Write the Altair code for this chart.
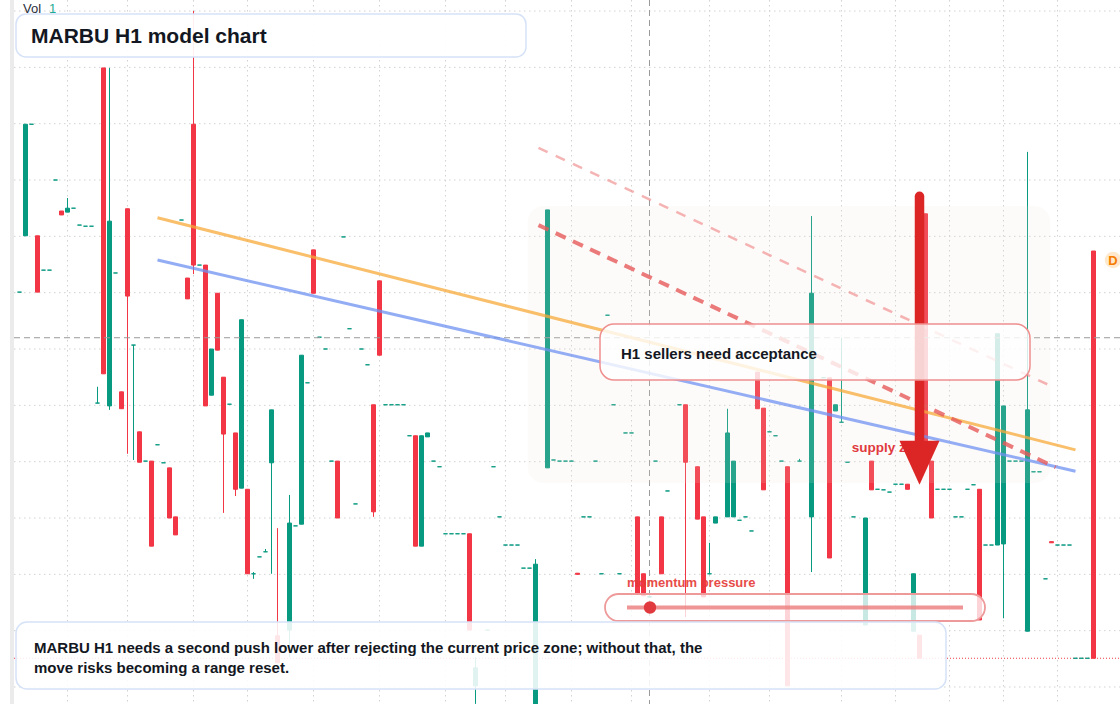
import altair as alt
import numpy as np
import pandas as pd

W, H = 1120, 704
GREEN, RED = "#089981", "#F23645"
FONT = "Liberation Sans"
INK = "#131722"

# ---------------- data (price units: 1 = one horizontal grid step) ----------------
BAR = [-1, 0, 1, 2, 3, 4, 5, 6, 7, 8, 9,
       10, 11, 12, 13, 14, 15, 16, 17, 18, 19,
       20, 21, 22, 23, 24, 25, 26, 27, 28, 29,
       30, 31, 32, 33, 34, 35, 36, 37, 38, 39,
       40, 41, 42, 44, 45, 46, 47, 48, 49, 50,
       51, 52, 53, 54, 55, 56, 57, 58, 59, 60,
       61, 62, 63, 64, 65, 66, 67, 68, 69, 70,
       71, 72, 73, 74, 75, 77, 78, 79, 80, 81,
       82, 83, 84, 85, 87, 88, 89, 90, 91, 92,
       93, 94, 95, 96, 97, 98, 99, 100, 101, 102,
       103, 104, 105, 106, 107, 109, 110, 112, 113, 114,
       115, 117, 118, 119, 120, 121, 122, 123, 124, 125,
       126, 127, 129, 131, 133, 134, 135, 136, 137, 138,
       140, 141, 142, 143, 144, 145, 146, 147, 148, 149,
       150, 151, 152, 153, 154, 155, 156, 157, 158, 159,
       160, 161, 162, 163, 164, 165, 166, 167, 168, 169,
       170, 171, 172, 173, 174, 175, 176, 177, 178]

OPEN = [7.01, 8.01, 9.99, 8.01, 7.40, 7.40, 9.00, 8.45, 8.43, 8.50, 8.20,
        8.18, 8.18, 5.04, 10.99, 4.99, 7.35, 5.24, 8.49, 6.07, 4.53,
        4.01, 4.01, 4.30, 3.98, 3.89, 3.02, 8.29, 7.26, 9.99, 7.49,
        7.49, 5.18, 6.99, 5.50, 5.02, 4.51, 3.53, 3.51, 2.01, 2.31,
        2.40, 3.98, 0.91, 1.01, 2.86, 2.89, 5.40, 7.76, 6.21, 6.00,
        4.01, 4.01, 7.99, 6.36, 3.25, 6.00, 5.72, 5.01, 7.21, 5.01,
        5.01, 5.01, 5.01, 4.46, 4.46, 2.50, 4.44, 4.01, 3.91, 2.72,
        2.72, 2.72, 2.72, 2.72, 0.02, 1.01, 3.91, 3.02, 2.52, 2.52,
        2.52, 2.11, 2.11, -0.30, 3.89, 4.03, 4.01, 4.01, 4.01, 2.02,
        3.02, 3.02, 4.01, 2.01, 6.60, 5.01, 2.01, 4.51, 4.51, 3.02,
        2.01, 1.60, 4.01, 3.02, 3.48, 5.01, 5.01, 3.91, 3.02, 2.01,
        2.91, 3.02, 3.02, 2.96, 3.02, 2.77, 5.59, 4.95, 4.53, 4.46,
        4.01, 3.91, 4.01, 3.02, 5.49, 5.49, 4.90, 4.70, 3.99, 3.02,
        1.10, 4.01, 3.51, 3.50, 3.46, 3.60, 3.60, 3.60, 0.99, 0.92,
        8.40, 4.01, 3.51, 3.51, 3.51, 3.02, 3.02, 3.51, 3.59, 3.51,
        2.52, 2.52, 2.52, 2.54, 4.01, 4.01, 4.01, 0.99, 3.82, 3.82,
        1.92, 2.58, 2.52, 2.52, 2.52, 0.51, 0.51, 0.51, 7.74]

HIGH = [7.01, 9.99, 9.99, 8.01, 7.40, 7.40, 9.00, 8.45, 8.68, 8.50, 8.20,
        8.18, 8.18, 5.33, 10.99, 10.99, 7.35, 5.24, 8.49, 6.07, 4.53,
        4.01, 4.01, 4.30, 3.98, 3.89, 3.02, 8.29, 7.26, 12.00, 7.49,
        7.49, 6.00, 6.99, 5.50, 5.02, 4.51, 6.52, 3.51, 2.04, 2.31,
        2.45, 4.92, 2.82, 3.41, 2.86, 5.89, 5.40, 7.76, 6.21, 6.00,
        4.01, 4.01, 7.99, 6.36, 3.25, 6.00, 5.72, 5.01, 7.21, 5.01,
        5.01, 5.01, 5.01, 4.46, 4.46, 4.46, 4.51, 4.01, 3.91, 2.72,
        2.72, 2.72, 2.72, 2.72, 0.53, 1.01, 3.91, 3.02, 2.52, 2.52,
        2.52, 2.11, 2.11, 2.27, 8.47, 4.03, 4.01, 4.01, 4.01, 2.02,
        3.02, 3.02, 4.01, 2.01, 6.60, 5.01, 2.01, 4.51, 4.51, 3.02,
        2.01, 1.60, 4.01, 3.02, 3.48, 5.01, 5.01, 3.91, 3.02, 2.56,
        3.02, 4.94, 4.01, 2.96, 3.02, 2.77, 5.59, 4.95, 4.53, 4.46,
        4.01, 3.91, 4.05, 8.36, 5.49, 5.49, 5.01, 6.20, 3.99, 3.02,
        3.00, 4.01, 3.51, 3.50, 3.46, 3.60, 3.60, 3.60, 2.01, 0.92,
        8.40, 4.01, 3.51, 3.51, 3.51, 3.02, 3.02, 3.51, 3.59, 3.51,
        2.52, 2.52, 6.27, 4.99, 4.01, 4.01, 4.01, 9.50, 3.82, 3.82,
        1.92, 2.58, 2.52, 2.52, 2.52, 0.51, 0.51, 0.51, 7.74]

LOW = [7.01, 8.01, 9.99, 7.01, 7.40, 7.40, 9.00, 8.38, 8.43, 8.50, 8.20,
       8.18, 8.18, 5.04, 5.56, 4.92, 7.35, 4.94, 4.14, 4.03, 3.99,
       4.01, 2.50, 4.30, 3.98, 3.00, 2.70, 8.29, 6.89, 7.33, 7.49,
       4.99, 5.18, 5.98, 3.09, 5.02, 3.39, 3.53, 2.01, 1.92, 2.31,
       2.40, 2.01, 0.43, 0.53, 2.86, 2.89, 5.40, 6.99, 6.21, 6.00,
       4.01, 3.00, 7.99, 6.36, 3.25, 6.00, 5.72, 3.02, 5.89, 5.01,
       5.01, 5.01, 5.01, 4.46, 2.50, 2.50, 4.44, 4.01, 3.91, 2.72,
       2.72, 2.72, 2.72, 1.01, -0.30, 1.01, 3.91, 3.02, 2.52, 2.52,
       2.52, 2.11, 2.11, -0.30, 3.89, 4.03, 4.01, 4.01, 4.01, 2.00,
       3.02, 3.02, 4.01, 2.01, 6.60, 5.01, 2.01, 4.51, 4.51, 1.65,
       1.62, 1.60, 4.01, 2.01, 3.48, 5.01, 1.24, 2.98, 1.60, 2.01,
       2.91, 3.02, 3.02, 2.96, 3.02, 2.77, 4.94, 3.50, 4.53, 4.46,
       4.01, 0.02, 4.01, 2.04, 5.49, 2.29, 4.90, 4.70, 3.99, 3.02,
       1.10, 3.50, 3.51, 3.50, 3.46, 3.60, 3.60, 3.51, 0.99, 0.51,
       4.12, 3.00, 3.51, 3.51, 3.51, 3.02, 3.02, 3.51, 3.59, 1.19,
       2.52, 2.52, 2.52, 1.22, 4.01, 4.01, 4.01, 0.99, 3.82, 3.82,
       1.92, 2.56, 2.52, 2.52, 2.52, 0.51, 0.51, 0.51, 0.51]

CLOSE = [7.01, 9.99, 9.99, 7.01, 7.40, 7.40, 9.00, 8.38, 8.50, 8.50, 8.20,
         8.18, 8.18, 5.04, 5.56, 8.27, 7.35, 4.94, 6.94, 6.07, 3.99,
         4.01, 2.50, 4.30, 3.98, 3.00, 2.70, 8.29, 6.89, 7.49, 7.49,
         4.99, 6.00, 5.98, 4.49, 5.02, 3.51, 6.52, 2.01, 2.01, 2.31,
         2.40, 4.92, 0.43, 2.91, 2.86, 5.89, 5.40, 6.99, 6.21, 6.00,
         4.01, 3.00, 7.99, 6.36, 3.25, 6.00, 5.72, 3.11, 5.89, 5.01,
         5.01, 5.01, 5.01, 4.46, 2.50, 4.46, 4.51, 4.01, 3.91, 2.72,
         2.72, 2.72, 2.72, 1.01, 0.34, 1.01, 3.91, 3.02, 2.52, 2.52,
         2.52, 2.11, 2.11, 2.18, 8.47, 4.03, 4.01, 4.01, 4.01, 2.00,
         3.02, 3.02, 4.01, 2.01, 6.60, 5.01, 2.01, 4.51, 4.51, 1.65,
         1.62, 1.60, 4.01, 2.01, 3.48, 5.01, 3.99, 2.98, 1.60, 2.01,
         3.02, 4.51, 4.01, 2.96, 3.02, 2.77, 4.94, 3.50, 4.53, 4.46,
         4.01, 0.02, 4.01, 6.99, 5.49, 2.29, 5.01, 4.70, 3.99, 3.02,
         3.00, 3.50, 3.51, 3.50, 3.46, 3.60, 3.60, 3.51, 2.01, 0.51,
         4.12, 3.00, 3.51, 3.51, 3.51, 3.02, 3.02, 3.51, 3.59, 1.19,
         2.52, 2.52, 6.27, 4.99, 4.01, 4.01, 4.01, 4.92, 3.82, 3.82,
         1.92, 2.56, 2.52, 2.52, 2.52, 0.51, 0.51, 0.51, 0.51]

assert len(BAR) == len(OPEN) == len(HIGH) == len(LOW) == len(CLOSE)

DAY_BREAKS = [7, 17, 28, 37, 48, 59, 70, 80, 91, 101, 114, 124, 136, 145, 154, 163, 172]
PRICE_GRID = list(range(0, 13))
CROSS_BAR, CROSS_PRICE = 104, 6.20
LAST_PRICE = 0.51

TREND_BARS = [22, 175]
ORANGE_LINE = [8.33, 4.21]
BLUE_LINE = [7.58, 3.83]
RED_DASH_BARS = [85.5, 171.7]
RED_DASH = [8.20, 3.90]
PINK_DASH_BARS = [85.5, 171.2]
PINK_DASH = [9.57, 5.33]

ZONE_BARS = [83.7, 170.8]
ZONE_PRICES = [8.54, 3.62]
ARROW_BAR = 149
ARROW_SHAFT = [8.71, 4.30]
ARROW_HEAD = 3.98
SUPPLY_AT = (137.7, 4.17)

TITLE = "MARBU H1 model chart"
NOTE = ("MARBU H1 needs a second push lower after rejecting the current price zone; without that, the\n"
        "move risks becoming a range reset.")
CALLOUT = "H1 sellers need acceptance"
MOMENTUM = "momentum pressure"
SUPPLY = "supply zone"

# ---------------- scales ----------------
XS = alt.Scale(domain=[-25.5 / 6, 1094.5 / 6], nice=False, zero=False, padding=0)
YS = alt.Scale(domain=[-0.302, 12.196], nice=False, zero=False, padding=0)


def X(f):
    return alt.X(f"{f}:Q", scale=XS, axis=None)


def Y(f):
    return alt.Y(f"{f}:Q", scale=YS, axis=None)


ONE = alt.InlineData(values=[{"k": 0}])


def panel(x0, x1, y0, y1, **kw):
    return alt.Chart(ONE).mark_rect(**kw).encode(
        x=alt.value(x0), x2=alt.value(x1), y=alt.value(y0), y2=alt.value(y1))


def label(txt, x, y, **kw):
    kw.setdefault("align", "left")
    kw.setdefault("baseline", "alphabetic")
    kw.setdefault("font", FONT)
    return alt.Chart(pd.DataFrame({"t": [txt]})).mark_text(**kw).encode(
        x=alt.value(x), y=alt.value(y), text="t:N")


def seg(bars, prices, **kw):
    return alt.Chart(pd.DataFrame({"b": bars, "p": prices})).mark_line(**kw).encode(
        x=X("b"), y=Y("p"))


df = pd.DataFrame({"bar": BAR, "open": OPEN, "high": HIGH, "low": LOW, "close": CLOSE})
df["dir"] = np.where(df["close"] >= df["open"], "up", "down")
cscale = alt.Scale(domain=["up", "down"], range=[GREEN, RED])

layers = []

# grid
GRID = "#D2D2D2"
layers.append(alt.Chart(pd.DataFrame({"p": PRICE_GRID})).mark_rule(
    color=GRID, strokeWidth=1, strokeDash=[1.5, 3.5]).encode(
    y=Y("p"), x=alt.value(14), x2=alt.value(W)))
layers.append(alt.Chart(pd.DataFrame({"b": DAY_BREAKS})).mark_rule(
    color=GRID, strokeWidth=1, strokeDash=[1.5, 3.5]).encode(x=X("b")))

# last price line
layers.append(alt.Chart(pd.DataFrame({"p": [LAST_PRICE]})).mark_rule(
    color=RED, strokeWidth=1, strokeDash=[1, 2]).encode(
    y=Y("p"), x=alt.value(14), x2=alt.value(W)))

# candles
layers.append(alt.Chart(df).mark_rule(strokeWidth=1).encode(
    x=X("bar"), y=Y("low"), y2=alt.Y2("high"),
    color=alt.Color("dir:N", scale=cscale, legend=None)))
layers.append(alt.Chart(df).mark_bar(size=4, strokeWidth=1).encode(
    x=X("bar"), y=Y("open"), y2=alt.Y2("close"),
    color=alt.Color("dir:N", scale=cscale, legend=None),
    stroke=alt.Stroke("dir:N", scale=cscale, legend=None)))

# crosshair
layers.append(alt.Chart(pd.DataFrame({"p": [CROSS_PRICE]})).mark_rule(
    color="#9A9A9A", strokeWidth=1, strokeDash=[6, 4]).encode(
    y=Y("p"), x=alt.value(14), x2=alt.value(W)))
layers.append(alt.Chart(pd.DataFrame({"b": [CROSS_BAR]})).mark_rule(
    color="#9A9A9A", strokeWidth=1, strokeDash=[6, 4]).encode(x=X("b")))

# supply zone shade
layers.append(alt.Chart(pd.DataFrame({"b0": [ZONE_BARS[0]], "b1": [ZONE_BARS[1]],
                                      "p0": [ZONE_PRICES[0]], "p1": [ZONE_PRICES[1]]}))
              .mark_rect(cornerRadius=16, color="#F3E4D6", opacity=0.14)
              .encode(x=X("b0"), x2=alt.X2("b1"), y=Y("p0"), y2=alt.Y2("p1")))

# trend lines
layers.append(seg(TREND_BARS, ORANGE_LINE, color="#F7AA3A", strokeWidth=3, opacity=0.75))
layers.append(seg(TREND_BARS, BLUE_LINE, color="#6F91F2", strokeWidth=3, opacity=0.75))
layers.append(seg(PINK_DASH_BARS, PINK_DASH, color="#F08C8C", strokeWidth=2.5,
                  opacity=0.65, strokeDash=[10, 9]))
layers.append(seg(RED_DASH_BARS, RED_DASH, color="#E65A5A", strokeWidth=4,
                  opacity=0.8, strokeDash=[11, 8]))

# supply label + arrow
layers.append(alt.Chart(pd.DataFrame({"b": [SUPPLY_AT[0]], "p": [SUPPLY_AT[1]], "t": [SUPPLY]}))
              .mark_text(align="left", baseline="alphabetic", font=FONT, fontSize=13.5,
                         fontWeight="bold", color="#E0393E")
              .encode(x=X("b"), y=Y("p"), text="t:N"))
layers.append(alt.Chart(pd.DataFrame({"b": [ARROW_BAR], "p0": [ARROW_SHAFT[0]], "p1": [ARROW_SHAFT[1]]}))
              .mark_rule(color="#DC2626", strokeWidth=9.5, strokeCap="round")
              .encode(x=X("b"), y=Y("p0"), y2=alt.Y2("p1")))
layers.append(alt.Chart(pd.DataFrame({"b": [ARROW_BAR], "p": [ARROW_HEAD]}))
              .mark_point(shape="M-1,-1.1L1,-1.1L0,1.1Z", size=1600, filled=True,
                          color="#DC2626", opacity=1, strokeWidth=0)
              .encode(x=X("b"), y=Y("p")))

# callout box
layers.append(panel(600, 1030, 324, 380, cornerRadius=14, fill="white", fillOpacity=0.8,
                    stroke="#EF8F8F", strokeWidth=1.5))
layers.append(label(CALLOUT, 621, 359, fontSize=15, fontWeight="bold", color=INK))

# momentum pill
layers.append(label(MOMENTUM, 627, 587, fontSize=13, fontWeight="bold", color="#E53935", opacity=0.9))
layers.append(panel(605, 985, 594, 621, cornerRadius=13.5, fill="white", fillOpacity=0.78,
                    stroke="#EE9A9A", strokeWidth=1.8))
layers.append(alt.Chart(ONE).mark_rule(color="#EC8282", strokeWidth=4, opacity=0.85).encode(
    x=alt.value(627), x2=alt.value(963), y=alt.value(607.5)))
layers.append(alt.Chart(ONE).mark_circle(size=154, color="#E0393E", opacity=1).encode(
    x=alt.value(650), y=alt.value(607.5)))

# bottom note
layers.append(panel(16, 946, 622, 689, cornerRadius=11, fill="white", fillOpacity=0.88,
                    stroke="#D5E2F7", strokeWidth=1.5))
layers.append(label(NOTE, 34, 653, fontSize=15, fontWeight="bold", color=INK,
                    lineBreak="\n", lineHeight=20))

# title
layers.append(panel(16, 526, 14, 57, cornerRadius=10, fill="white", fillOpacity=0.92,
                    stroke="#D5E2F7", strokeWidth=1.5))
layers.append(label(TITLE, 31, 43, fontSize=21, fontWeight="bold", color=INK))

# Vol label
layers.append(label("Vol", 23, 13, fontSize=13, color="#2A2E39"))
layers.append(label("1", 49, 13, fontSize=13, color="#22AB94"))

# D badge
layers.append(alt.Chart(ONE).mark_circle(size=270, color="#FFE8CC", opacity=1).encode(
    x=alt.value(1113), y=alt.value(260)))
layers.append(label("D", 1113, 264.5, align="center", fontSize=13, fontWeight="bold", color="#F57C00"))

# left edge
layers.append(panel(0, 10, 0, H, fill="white"))
layers.append(panel(10, 14, 0, H, fill="#EBEBEB"))

chart = alt.layer(*layers).properties(
    width=W, height=H, padding=0, autosize=alt.AutoSizeParams(type="none"),
    background="white",
).configure_view(stroke=None)

chart.save("out.html", embed_options={"renderer": "svg", "actions": False})
